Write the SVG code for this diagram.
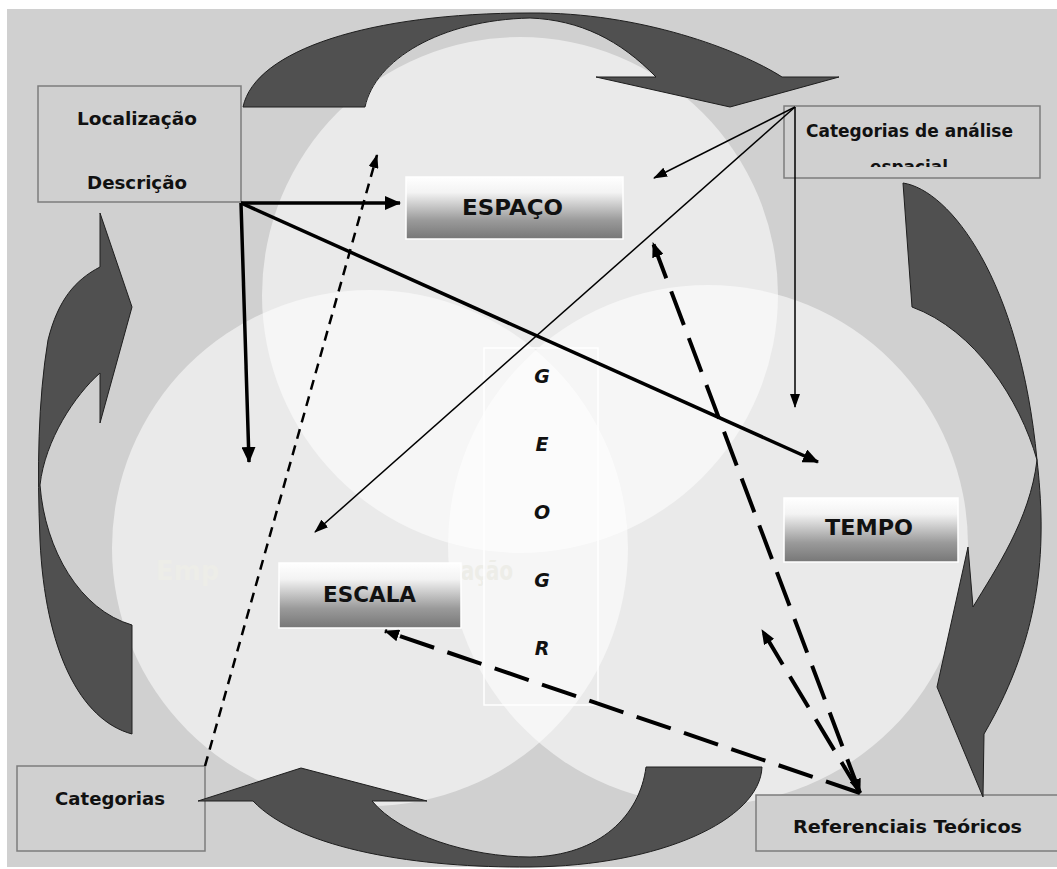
<svg xmlns="http://www.w3.org/2000/svg" width="1057" height="869" viewBox="0 0 1057 869">
<defs>
<style>
.lbl{font-family:"DejaVu Sans","Liberation Sans",sans-serif;font-weight:bold;font-size:18px;fill:#111}
.cap{font-family:"DejaVu Sans","Liberation Sans",sans-serif;font-weight:bold;font-size:22px;fill:#111}
.geo{font-family:"DejaVu Sans","Liberation Sans",sans-serif;font-weight:bold;font-style:italic;font-size:19px;fill:#111;text-anchor:middle}
.box{fill:#d0d0d0;stroke:#7c7c7c;stroke-width:1.5}
.gbox{fill:url(#grad);stroke:#ffffff;stroke-width:1.5}
.circ{fill:#ffffff;fill-opacity:0.55}
.darr{fill:#505050;stroke:#1e1e1e;stroke-width:1}
.thick{stroke:#000;stroke-width:3.5;fill:none}
.thin{stroke:#000;stroke-width:1.5;fill:none}
.ldash{stroke:#000;stroke-width:4;fill:none;stroke-dasharray:36 14}
.sdash{stroke:#000;stroke-width:2.5;fill:none;stroke-dasharray:10 7}
.faint{font-family:"DejaVu Sans","Liberation Sans",sans-serif;font-weight:bold;font-size:26px;fill:#edede8}
</style>
<linearGradient id="grad" x1="0" y1="0" x2="0" y2="1">
<stop offset="0" stop-color="#ffffff"/>
<stop offset="0.25" stop-color="#f3f3f3"/>
<stop offset="0.7" stop-color="#9a9a9a"/>
<stop offset="1" stop-color="#777777"/>
</linearGradient>
<marker id="ahThick" markerUnits="userSpaceOnUse" viewBox="0 0 16 14" markerWidth="16" markerHeight="14" refX="15" refY="7" orient="auto"><path d="M0,0 L16,7 L0,14 z" fill="#000"/></marker>
<marker id="ahThin" markerUnits="userSpaceOnUse" viewBox="0 0 14 10" markerWidth="14" markerHeight="10" refX="13" refY="5" orient="auto"><path d="M0,0 L14,5 L0,10 z" fill="#000"/></marker>
<marker id="ahDash" markerUnits="userSpaceOnUse" viewBox="0 0 15 12" markerWidth="15" markerHeight="12" refX="14" refY="6" orient="auto-start-reverse"><path d="M0,0 L15,6 L0,12 z" fill="#000"/></marker>
<marker id="ahSm" markerUnits="userSpaceOnUse" viewBox="0 0 14 10" markerWidth="14" markerHeight="10" refX="13" refY="5" orient="auto"><path d="M0,0 L14,5 L0,10 z" fill="#000"/></marker>
<clipPath id="clipEsp"><rect x="783" y="106" width="257" height="61"/></clipPath>
</defs>

<rect x="0" y="0" width="1057" height="869" fill="#ffffff"/>
<rect x="7" y="9" width="1050" height="858" fill="#d0d0d0"/>

<g id="circles">
<circle class="circ" cx="520" cy="295" r="258"/>
<circle class="circ" cx="370" cy="548" r="258"/>
<circle class="circ" cx="708" cy="545" r="260"/>
</g>

<g id="faint-text">
<text class="faint" x="156" y="580">Emp</text>
<text class="faint" x="461" y="580" textLength="52" lengthAdjust="spacingAndGlyphs">ação</text>
</g>

<g id="box-localizacao">
<rect class="box" x="38" y="86" width="203" height="116"/>
<text class="lbl" x="77" y="125" textLength="120" lengthAdjust="spacingAndGlyphs">Localização</text>
<text class="lbl" x="87" y="189" textLength="100" lengthAdjust="spacingAndGlyphs">Descrição</text>
</g>

<g id="box-categorias-analise">
<rect class="box" x="784" y="106" width="256" height="72"/>
<text class="lbl" x="806" y="137" textLength="207" lengthAdjust="spacingAndGlyphs">Categorias de análise</text>
<text class="lbl" x="870" y="173" textLength="78" lengthAdjust="spacingAndGlyphs" clip-path="url(#clipEsp)">espacial</text>
</g>

<g id="box-categorias">
<rect class="box" x="17" y="766" width="188" height="85"/>
<text class="lbl" x="55" y="805" textLength="110" lengthAdjust="spacingAndGlyphs">Categorias</text>
</g>

<g id="box-referenciais">
<rect class="box" x="756" y="795" width="310" height="56"/>
<text class="lbl" x="793" y="833" textLength="229" lengthAdjust="spacingAndGlyphs">Referenciais Teóricos</text>
</g>

<g id="cycle-arrows">
<path id="arrow-top" class="darr" d="M 243,107 C 255,50 370,13 530,13 C 640,12 740,50 782,77 L 839,77 L 730,107 L 596,77 L 656,77 C 620,40 580,20 530,18 C 440,20 375,60 365,107 Z"/>
<path id="arrow-right" class="darr" d="M 903,183 C 950,190 1020,280 1037,460 C 1046,540 1045,630 984,734 L 983,797 L 937,687 L 968,547 L 973,607 C 995,570 1030,520 1037,460 C 1020,400 975,330 912,307 Z"/>
<path id="arrow-bottom" class="darr" d="M 762,767 C 760,820 660,866 530,867 C 420,868 300,850 253,801 L 198,801 L 301,768 L 427,801 L 372,801 C 400,835 470,857 530,857 C 600,856 640,815 646,767 Z"/>
<path id="arrow-left" class="darr" d="M 100,213 L 132,307 L 100,423 L 100,373 C 75,395 45,440 40,485 C 45,550 80,610 132,625 L 132,734 C 80,720 45,650 40,540 C 37,470 38,400 48,340 C 58,300 75,280 100,267 Z"/>
</g>

<g id="node-espaco">
<rect class="gbox" x="406" y="177" width="217" height="62"/>
<text class="cap" x="462" y="215" textLength="101" lengthAdjust="spacingAndGlyphs">ESPAÇO</text>
</g>

<g id="node-tempo">
<rect class="gbox" x="784" y="498" width="174" height="64"/>
<text class="cap" x="825" y="535" textLength="88" lengthAdjust="spacingAndGlyphs">TEMPO</text>
</g>

<g id="node-escala">
<rect class="gbox" x="279" y="563" width="182" height="65"/>
<text class="cap" x="323" y="602" textLength="93" lengthAdjust="spacingAndGlyphs">ESCALA</text>
</g>

<g id="node-geogr">
<rect x="484" y="348" width="114" height="357" fill="none" stroke="#ffffff" stroke-width="1.5"/>
<text class="geo" x="542" y="383">G</text>
<text class="geo" x="542" y="451">E</text>
<text class="geo" x="542" y="519">O</text>
<text class="geo" x="542" y="587">G</text>
<text class="geo" x="542" y="655">R</text>
</g>

<g id="connectors">
<line class="thick" x1="241" y1="203" x2="400" y2="203" marker-end="url(#ahThick)"/>
<line class="thick" x1="241" y1="203" x2="249" y2="462" marker-end="url(#ahThick)"/>
<line class="thick" x1="241" y1="203" x2="818" y2="462" marker-end="url(#ahThick)"/>
<line class="thin" x1="795" y1="107" x2="654" y2="178" marker-end="url(#ahThin)"/>
<line class="thin" x1="795" y1="107" x2="315" y2="532" marker-end="url(#ahThin)"/>
<line class="thin" x1="795" y1="107" x2="795" y2="407" marker-end="url(#ahThin)"/>
<line class="sdash" x1="205" y1="766" x2="377" y2="155" marker-end="url(#ahSm)"/>
<line class="ldash" x1="860" y1="793" x2="385" y2="631" marker-end="url(#ahDash)"/>
<line class="ldash" x1="860" y1="793" x2="762" y2="630" marker-end="url(#ahDash)"/>
<line class="ldash" x1="860" y1="793" x2="653" y2="243" marker-start="url(#ahDash)" marker-end="url(#ahDash)"/>
</g>
</svg>
